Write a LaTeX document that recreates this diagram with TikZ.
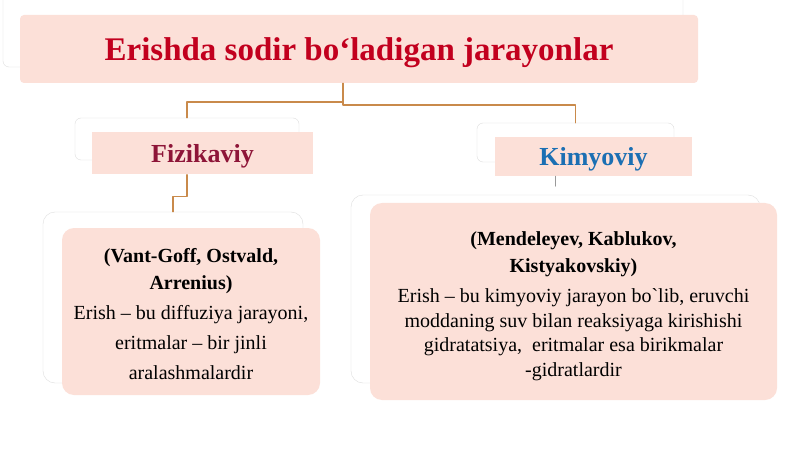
\documentclass[tikz,border=0pt]{standalone}
\usepackage{fontspec}
\setmainfont{Liberation Serif}
\definecolor{pinkfill}{HTML}{FCE0D8}
\definecolor{titlered}{HTML}{C2001E}
\definecolor{fizred}{HTML}{8E1538}
\definecolor{kimblue}{HTML}{1B6FB3}
\definecolor{linkbrown}{HTML}{C98A4B}

\begin{document}
\begin{tikzpicture}[line cap=round,line join=round,x=1pt,y=-1pt,
        frame/.style={draw=black!13,fill=white,rounded corners=6pt,inner sep=0pt},
        pinkbox/.style={fill=pinkfill,inner sep=0pt,align=center,text depth=0pt},
        bodytext/.style={inner sep=0pt,align=center}, 
        conn/.style={draw=linkbrown,line width=1.1pt}]
        \useasboundingbox[fill=white] (0,0) rectangle (800,449);
        % frames behind the boxes
        \node[frame,minimum width=680pt,minimum height=77pt] (titleframe) at (343,28.5) {};
        \node[frame,minimum width=224pt,minimum height=42pt] (fizframe) at (187,139) {};
        \node[frame,minimum width=197pt,minimum height=39pt] (kimframe) at (575.5,142.5) {};
        \node[frame,rounded corners=12pt,minimum width=260pt,minimum height=171pt] (fizdetframe) at (173,297.5) {};
        \node[frame,rounded corners=12pt,minimum width=409pt,minimum height=188pt] (kimdetframe) at (555.5,289) {};
        % pink boxes
        \node[pinkbox,rounded corners=4pt,minimum width=678pt,minimum height=68pt,text=titlered,font=\fontsize{33}{38}\selectfont\bfseries] (title) at (359,49) {Erishda sodir bo‘ladigan jarayonlar};
        \node[pinkbox,minimum width=221pt,minimum height=42pt,text=fizred,font=\fontsize{26}{30}\selectfont\bfseries] (fiz) at (202.5,153.5) {Fizikaviy};
        \node[pinkbox,minimum width=197pt,minimum height=39pt,text=kimblue,font=\fontsize{26}{30}\selectfont\bfseries] (kim) at (593.5,156.5) {Kimyoviy};
        \node[pinkbox,rounded corners=12pt,minimum width=258pt,minimum height=167pt] (fizdet) at (191,311.5) {};
        \node[pinkbox,rounded corners=12pt,minimum width=407pt,minimum height=197pt] (kimdet) at (573.5,301.5) {};
        % texts of the lower boxes
        \node[bodytext,font=\fontsize{20}{30}\selectfont] (fizdettext) at ([yshift=-3pt]fizdet.center) {\textbf{(Vant-Goff, Ostvald,}\\[-3pt]\textbf{Arrenius)}\\Erish – bu diffuziya jarayoni,\\eritmalar – bir jinli\\aralashmalardir};
        \node[bodytext,font=\fontsize{20}{24.5}\selectfont] (kimdettext) at ([yshift=-4.5pt]kimdet.center) {\textbf{(Mendeleyev, Kablukov,}\\[2.5pt]\textbf{Kistyakovskiy)}\\[6pt]Erish – bu kimyoviy jarayon bo\textasciigrave lib, eruvchi\\moddaning suv bilan reaksiyaga kirishishi\\gidratatsiya,\ \ eritmalar esa birikmalar\\-gidratlardir};
        % connectors
        \coordinate (split) at (titleframe.south |- 0,103);
        \draw[conn] (titleframe.south |- title.south) -- (split);
        \draw[conn] (split) -- ++(0,-1) -| (fizframe.north);
        \draw[conn] (split) -- ++(0,2) -| (kimframe.north);
        \draw[conn] (fizframe.north |- fiz.south) -- ++(0,22) -| (fizdetframe.north);
        \draw[draw=black!40,line width=0.8pt] (kimdetframe.north |- kim.south) -- ++(0,10);
    \end{tikzpicture}
\end{document}
